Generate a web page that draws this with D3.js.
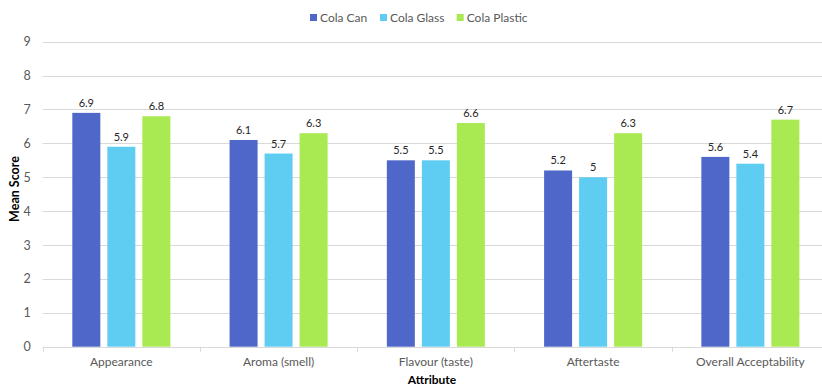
<!DOCTYPE html>
<html><head><meta charset="utf-8">
<script src="https://cdn.jsdelivr.net/npm/d3@7"></script>
<style>body{margin:0;background:#fff;} svg{display:block;font-family:Lato, "Open Sans", sans-serif;}</style>
</head><body>
<svg id="c" width="822" height="387"></svg>
<script>
const categories = ["Appearance","Aroma (smell)","Flavour (taste)","Aftertaste","Overall Acceptability"];
const seriesNames = ["Cola Can","Cola Glass","Cola Plastic"];
const colaCan = [6.9,6.1,5.5,5.2,5.6];
const colaGlass = [5.9,5.7,5.5,5.0,5.4];
const colaPlastic = [6.8,6.3,6.6,6.3,6.7];
const yTicks = [0,1,2,3,4,5,6,7,8,9];
const colors = ["#4F67C9","#5FCDF2","#A9E952"];
const seriesValues = [colaCan, colaGlass, colaPlastic];

(function(){
const svg = d3.select("#c");
const pl = 42.7, pr = 829, pt = 41.7, pb = 346.7;
const x0 = d3.scaleBand().domain(categories).range([pl, pr]).paddingInner(0).paddingOuter(0);
const x1 = d3.scaleBand().domain(seriesNames).range([0, x0.bandwidth()]).paddingInner(0.2).paddingOuter(0.846);
const y = d3.scaleLinear().domain([0,9]).range([pb, pt]);

// gridlines
svg.append("g").selectAll("line").data(yTicks.filter(d=>d>0)).join("line")
  .attr("x1", pl).attr("x2", pr).attr("y1", d=>Math.round(y(d))+0.5).attr("y2", d=>Math.round(y(d))+0.5)
  .attr("stroke","#d9d9d9").attr("stroke-width",1);

// y axis labels
const yAxis = d3.axisLeft(y).tickValues(yTicks).tickSize(0).tickPadding(0).tickFormat(d3.format("d"));
const ya = svg.append("g").attr("transform",`translate(${pl-12},0)`).call(yAxis);
ya.select(".domain").remove();
ya.selectAll("text").attr("fill","#595959").attr("font-size","12.5px").attr("font-family","Lato, sans-serif");

// bars
const groups = svg.append("g").selectAll("g").data(categories).join("g")
  .attr("transform", d=>`translate(${x0(d)},0)`);
groups.selectAll("rect").data((c,i)=>seriesNames.map((s,j)=>({s, v: seriesValues[j][i], j}))).join("rect")
  .attr("x", d=>x1(d.s)).attr("width", x1.bandwidth())
  .attr("y", d=>y(d.v)).attr("height", d=>y(0)-y(d.v))
  .attr("fill", d=>colors[d.j]);
groups.selectAll("text").data((c,i)=>seriesNames.map((s,j)=>({s, v: seriesValues[j][i], j}))).join("text")
  .attr("x", d=>x1(d.s)+x1.bandwidth()/2).attr("y", d=>y(d.v)-6)
  .attr("text-anchor","middle").attr("font-size","11px").attr("fill","#262626")
  .text(d=>d.v);

// x axis
const xAxis = d3.axisBottom(x0).tickSize(0).tickPadding(11);
const xa = svg.append("g").attr("transform",`translate(0,${pb})`).call(xAxis);
xa.select(".domain").remove();
xa.selectAll("text").attr("fill","#595959").attr("font-size","12px").attr("font-family","Lato, sans-serif");
svg.append("line").attr("x1",pl).attr("x2",pr).attr("y1",Math.round(pb)+0.5).attr("y2",Math.round(pb)+0.5).attr("stroke","#d9d9d9");
svg.append("g").selectAll("line").data(categories).join("line")
  .attr("x1", d=>Math.round(x0(d))+0.5).attr("x2", d=>Math.round(x0(d))+0.5)
  .attr("y1", pb).attr("y2", pb+5).attr("stroke","#d9d9d9");

// axis titles
svg.append("text").attr("x", 432).attr("y", 384).attr("text-anchor","middle")
  .attr("font-size","12px").attr("font-weight","bold").attr("fill","#000").text("Attribute");
svg.append("text").attr("transform","translate(19,189) rotate(-90)").attr("text-anchor","middle")
  .attr("font-size","12.5px").attr("font-weight","bold").attr("fill","#000").text("Mean Score");

// legend
const legX = [310, 380, 456.7];
const leg = svg.append("g").selectAll("g").data(seriesNames).join("g")
  .attr("transform", (d,i)=>`translate(${legX[i]},14)`);
leg.append("rect").attr("width",7).attr("height",7).attr("fill",(d,i)=>colors[i]);
leg.append("text").attr("x",10).attr("y",7.5).attr("font-size","12px").attr("fill","#595959").text(d=>d);
})();
</script>
</body></html>
